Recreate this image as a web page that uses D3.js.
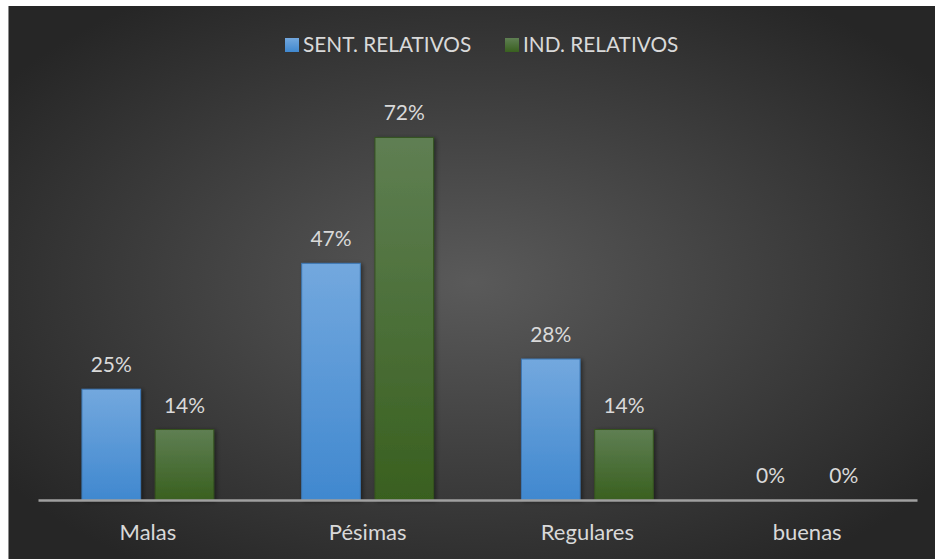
<!DOCTYPE html>
<html>
<head>
<meta charset="utf-8">
<script src="https://cdn.jsdelivr.net/npm/d3@7"></script>
<style>
  body { margin: 0; background: #fff; }
  svg text { font-family: Lato, "Open Sans", sans-serif; }
</style>
</head>
<body>
<div class="chart"></div>
<script>
// data
var categories = ["Malas", "Pésimas", "Regulares", "buenas"];
var series = ["SENT. RELATIVOS", "IND. RELATIVOS"];
var sentValues = [22, 47, 28, 0];   // bar heights (%)
var indValues = [14, 72, 14, 0];
var sentLabels = ["25%", "47%", "28%", "0%"];
var indLabels = ["14%", "72%", "14%", "0%"];

var W = 935, H = 559;
var svg = d3.select(".chart").append("svg")
    .attr("width", W)
    .attr("height", H);

var defs = svg.append("defs");

var bg = defs.append("radialGradient")
    .attr("id", "bg")
    .attr("cx", "50%").attr("cy", "50%").attr("r", "62%");
bg.append("stop").attr("offset", "0%").attr("stop-color", "#5a5a5a");
bg.append("stop").attr("offset", "100%").attr("stop-color", "#262626");

var gBlue = defs.append("linearGradient")
    .attr("id", "gBlue").attr("x1", 0).attr("y1", 0).attr("x2", 0).attr("y2", 1);
gBlue.append("stop").attr("offset", "0%").attr("stop-color", "#73a8de");
gBlue.append("stop").attr("offset", "100%").attr("stop-color", "#4088cf");

var gGreen = defs.append("linearGradient")
    .attr("id", "gGreen").attr("x1", 0).attr("y1", 0).attr("x2", 0).attr("y2", 1);
gGreen.append("stop").attr("offset", "0%").attr("stop-color", "#5f7f53");
gGreen.append("stop").attr("offset", "100%").attr("stop-color", "#39601f");

var shadow = defs.append("filter").attr("id", "shadow")
    .attr("x", "-20%").attr("y", "-20%").attr("width", "150%").attr("height", "150%");
shadow.append("feDropShadow")
    .attr("dx", 2).attr("dy", 1).attr("stdDeviation", 2)
    .attr("flood-color", "#000").attr("flood-opacity", 0.45);

// chart background
svg.append("rect")
    .attr("x", 8).attr("y", 6)
    .attr("width", W - 8).attr("height", H - 6)
    .attr("fill", "url(#bg)");
svg.append("line")
    .attr("x1", 8.5).attr("x2", 8.5).attr("y1", 6).attr("y2", H)
    .attr("stroke", "#8c8c8c").attr("stroke-width", 1);

var margin = { left: 38, right: 18, top: 97, bottom: 59 };
var baseY = 500;

var x0 = d3.scaleBand()
    .domain(categories)
    .range([margin.left, W - margin.right])
    .paddingInner(0.4)
    .paddingOuter(0.2);

var x1 = d3.scaleBand()
    .domain(series)
    .range([0, x0.bandwidth()])
    .paddingInner(0.2);

var y = d3.scaleLinear()
    .domain([0, 80])
    .range([baseY, baseY - 80 * 5.035]);

var rows = categories.map(function(c, i) {
  return [
    { cat: c, s: series[0], v: sentValues[i], label: sentLabels[i], fill: "url(#gBlue)", stroke: "#3d78b5" },
    { cat: c, s: series[1], v: indValues[i], label: indLabels[i], fill: "url(#gGreen)", stroke: "#35531f" }
  ];
});

var groups = svg.selectAll(".grp")
    .data(rows)
    .enter().append("g")
    .attr("class", "grp")
    .attr("transform", function(d, i) { return "translate(" + x0(categories[i]) + ",0)"; });

groups.selectAll("rect")
    .data(function(d) { return d; })
    .enter().append("rect")
    .attr("x", function(d) { return x1(d.s); })
    .attr("y", function(d) { return y(d.v); })
    .attr("width", x1.bandwidth())
    .attr("height", function(d) { return baseY - y(d.v); })
    .attr("fill", function(d) { return d.fill; })
    .attr("stroke", function(d) { return d.stroke; })
    .attr("stroke-width", 1)
    .attr("filter", function(d) { return d.v > 0 ? "url(#shadow)" : null; });

groups.selectAll("text")
    .data(function(d) { return d; })
    .enter().append("text")
    .attr("x", function(d) { return x1(d.s) + x1.bandwidth() / 2; })
    .attr("y", function(d) { return y(d.v) - 17; })
    .attr("text-anchor", "middle")
    .attr("fill", "#d9d9d9")
    .style("font-size", "21px")
    .text(function(d) { return d.label; });

// x axis
var xAxis = svg.append("g")
    .attr("transform", "translate(0," + baseY + ")")
    .call(d3.axisBottom(x0).tickSize(0).tickPadding(24));
xAxis.select(".domain")
    .attr("stroke", "#a0a0a0")
    .attr("stroke-width", 2.5);
xAxis.selectAll("text")
    .attr("fill", "#d9d9d9")
    .style("font-size", "22px")
    .style("font-family", "Lato, 'Open Sans', sans-serif");

// legend
var legendItems = [
  { name: series[0], fill: "url(#gBlue)", x: 285 },
  { name: series[1], fill: "url(#gGreen)", x: 505 }
];
var legend = svg.selectAll(".legend")
    .data(legendItems)
    .enter().append("g")
    .attr("class", "legend")
    .attr("transform", function(d) { return "translate(" + d.x + ",38)"; });
legend.append("rect")
    .attr("width", 14).attr("height", 14)
    .attr("fill", function(d) { return d.fill; });
legend.append("text")
    .attr("x", 18).attr("y", 14)
    .attr("fill", "#d9d9d9")
    .style("font-size", "20.8px")
    .text(function(d) { return d.name; });
</script>
</body>
</html>
